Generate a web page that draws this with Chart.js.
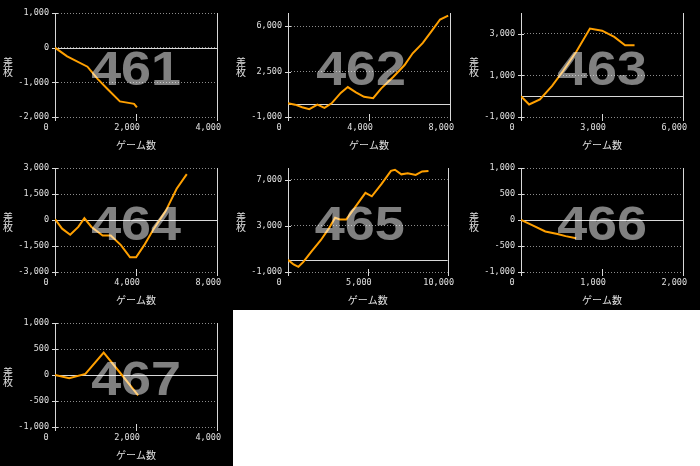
<!DOCTYPE html>
<html lang="ja">
<head>
<meta charset="UTF-8">
<title>差枚グラフ</title>
<style>
  html, body {
    margin: 0;
    padding: 0;
    background: #fff;
  }
  #grid {
    display: grid;
    grid-template-columns: 233px 233px 234px;
    grid-template-rows: 155px 155px 156px;
    width: 700px;
    height: 466px;
  }
  .cell {
    background: #000;
  }
  canvas {
    display: block;
  }
</style>
<script src="https://cdn.jsdelivr.net/npm/chart.js"></script>
</head>
<body>
<div id="grid">
  <div class="cell"><canvas id="c461" width="233" height="155"></canvas></div>
  <div class="cell"><canvas id="c462" width="233" height="155"></canvas></div>
  <div class="cell"><canvas id="c463" width="233" height="155"></canvas></div>
  <div class="cell"><canvas id="c464" width="233" height="155"></canvas></div>
  <div class="cell"><canvas id="c465" width="233" height="155"></canvas></div>
  <div class="cell"><canvas id="c466" width="233" height="155"></canvas></div>
  <div class="cell"><canvas id="c467" width="233" height="155"></canvas></div>
</div>

<script>
// 台番号
const machines = ['461', '462', '463', '464', '465', '466', '467'];

// ゲーム数 / 差枚
const games461 = [0, 300, 800, 1050, 1300, 1600, 1850, 1950, 2020];
const diff461  = [0, -250, -550, -900, -1200, -1550, -1600, -1620, -1720];

const games462 = [0, 350, 700, 1050, 1450, 1800, 2150, 2600, 2950, 3350, 3750, 4200, 4600, 5200, 5750, 6150, 6650, 7100, 7500, 7900];
const diff462  = [50, -50, -250, -400, -50, -300, 50, 850, 1300, 900, 550, 450, 1200, 2100, 3000, 3900, 4700, 5650, 6500, 6800];

const games463 = [0, 300, 700, 1150, 1550, 2050, 2550, 3000, 3450, 3850, 4200];
const diff463  = [0, -400, -150, 500, 1200, 2150, 3250, 3150, 2850, 2450, 2450];

const games464 = [0, 350, 750, 1150, 1450, 1800, 2350, 2750, 3250, 3700, 4000, 4400, 4850, 5450, 6000, 6500];
const diff464  = [50, -500, -850, -400, 100, -400, -900, -900, -1450, -2150, -2150, -1450, -550, 500, 1800, 2650];

const games465 = [0, 350, 650, 950, 1450, 2050, 2550, 2950, 3250, 3650, 4150, 4850, 5250, 5850, 6450, 6700, 7100, 7500, 8000, 8400, 8800];
const diff465  = [50, -350, -550, -150, 750, 1750, 2750, 3700, 3550, 3550, 4500, 5850, 5550, 6600, 7750, 7850, 7450, 7550, 7400, 7700, 7750];

const games466 = [0, 150, 300, 450, 550, 680];
const diff466  = [0, -110, -220, -270, -310, -350];

const games467 = [0, 350, 750, 1200, 1650, 2050];
const diff467  = [0, -60, 20, 430, 0, -390];

// 軸の目盛り
const xMax461 = 4000, xMax462 = 8000, xMax463 = 6000, xMax464 = 8000, xMax465 = 10000, xMax466 = 2000, xMax467 = 4000;
const yTicks461 = [-2000, -1000, 0, 1000];
const yTicks462 = [-1000, 2500, 6000];
const yTicks463 = [-1000, 1000, 3000];
const yTicks464 = [-3000, -1500, 0, 1500, 3000];
const yTicks465 = [-1000, 3000, 7000];
const yTicks466 = [-1000, -500, 0, 500, 1000];
const yTicks467 = [-1000, -500, 0, 500, 1000];
const yRange461 = [-2000, 1000];
const yRange462 = [-1000, 7000];
const yRange463 = [-1000, 4000];
const yRange464 = [-3000, 3000];
const yRange465 = [-1000, 8000];
const yRange466 = [-1000, 1000];
const yRange467 = [-1000, 1000];

const xTitle = 'ゲーム数';
const yTitle = ['差', '枚'];

const LINE = '#d8d8d8';
const TEXT = '#e0e0e0';
const monoFont = "'DejaVu Sans Mono', 'Liberation Mono', monospace";
const jpFont = "'Noto Sans CJK JP', sans-serif";

// 枠線・目盛り・タイトル・台番号
const framePlugin = {
  id: 'frame',
  beforeDatasetsDraw(chart) {
    const {ctx, chartArea: {left, right, top, bottom}, scales: {x, y}} = chart;
    const px = v => Math.round(v) + 0.5;
    ctx.save();
    ctx.strokeStyle = LINE;
    ctx.lineWidth = 1;
    ctx.beginPath();
    ctx.moveTo(px(left), top);
    ctx.lineTo(px(left), bottom + 3);
    ctx.moveTo(px(right), top);
    ctx.lineTo(px(right), bottom + 3);
    const zy = px(y.getPixelForValue(0));
    ctx.moveTo(left, zy);
    ctx.lineTo(right, zy);
    y.ticks.forEach(t => {
      const ty = px(y.getPixelForValue(t.value));
      ctx.moveTo(left - 3, ty);
      ctx.lineTo(left + 3, ty);
    });
    x.ticks.forEach(t => {
      const tx = px(x.getPixelForValue(t.value));
      ctx.moveTo(tx, bottom - 3);
      ctx.lineTo(tx, bottom + 4);
    });
    ctx.stroke();

    ctx.fillStyle = TEXT;
    ctx.font = '10px ' + jpFont;
    ctx.textAlign = 'center';
    ctx.textBaseline = 'middle';
    ctx.fillText(yTitle[0], 8, 62);
    ctx.fillText(yTitle[1], 8, 72);
    ctx.restore();
  },
  afterDatasetsDraw(chart, args, opts) {
    const {ctx, chartArea: {left, right}} = chart;
    ctx.save();
    ctx.fillStyle = 'rgba(255,255,255,0.5)';
    ctx.font = "bold 49px 'Liberation Sans', Arial, sans-serif";
    ctx.textAlign = 'center';
    ctx.textBaseline = 'alphabetic';
    ctx.translate((left + right) / 2 + (opts.shift || 0), 85);
    ctx.scale(1.1, 1);
    ctx.fillText(opts.text, 0, 0);
    ctx.restore();
  }
};

function makeChart(no, games, diffs, xMax, yRange, yTicks, shift) {
  const ctx = document.getElementById('c' + no).getContext('2d');
  return new Chart(ctx, {
    type: 'line',
    data: {
      datasets: [{
        data: games.map((g, i) => ({x: g, y: diffs[i]})),
        borderColor: '#ffa000',
        borderWidth: 2,
        pointRadius: 0,
        tension: 0
      }]
    },
    options: {
      responsive: false,
      animation: false,
      devicePixelRatio: 1,
      layout: { padding: { top: 13, right: 11, left: 0, bottom: 0 } },
      plugins: {
        legend: { display: false },
        tooltip: { enabled: false },
        frame: { text: no, shift: shift }
      },
      scales: {
        x: {
          type: 'linear',
          min: 0,
          max: xMax,
          afterFit: s => { s.height = 38; },
          afterBuildTicks: s => { s.ticks = [0, xMax / 2, xMax].map(v => ({value: v})); },
          grid: { drawOnChartArea: false, drawTicks: true, tickLength: 3, color: 'rgba(0,0,0,0)' },
          border: { display: false },
          ticks: {
            color: TEXT,
            font: { family: monoFont, size: 8.5 },
            padding: 3,
            labelOffset: -9,
            maxRotation: 0,
            callback: v => v.toLocaleString('en-US')
          },
          title: {
            display: true,
            text: xTitle,
            color: TEXT,
            font: { family: jpFont, size: 10 },
            padding: { top: 0, bottom: 4 }
          }
        },
        y: {
          min: yRange[0],
          max: yRange[1],
          afterFit: s => { s.width = 55; },
          afterBuildTicks: s => { s.ticks = yTicks.map(v => ({value: v})); },
          grid: { color: '#8c8c8c', tickLength: 3, tickColor: 'rgba(0,0,0,0)' },
          border: { display: false, dash: [1, 2] },
          ticks: {
            color: TEXT,
            font: { family: monoFont, size: 8.5 },
            padding: 3,
            callback: v => v.toLocaleString('en-US')
          }
        }
      }
    },
    plugins: [framePlugin]
  });
}

makeChart(machines[0], games461, diff461, xMax461, yRange461, yTicks461, 0);
makeChart(machines[1], games462, diff462, xMax462, yRange462, yTicks462, -8);
makeChart(machines[2], games463, diff463, xMax463, yRange463, yTicks463, 0);
makeChart(machines[3], games464, diff464, xMax464, yRange464, yTicks464, 0);
makeChart(machines[4], games465, diff465, xMax465, yRange465, yTicks465, -8);
makeChart(machines[5], games466, diff466, xMax466, yRange466, yTicks466, 0);
makeChart(machines[6], games467, diff467, xMax467, yRange467, yTicks467, 0);
</script>
</body>
</html>
